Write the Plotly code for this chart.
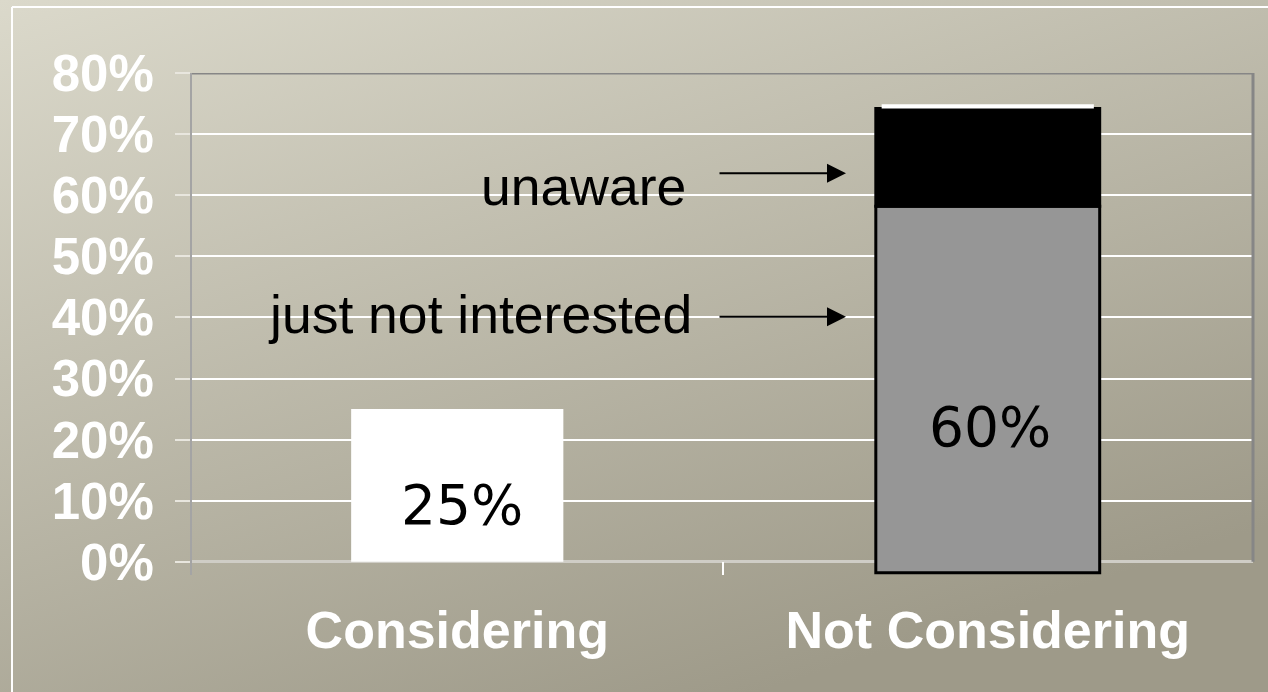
import base64

import plotly.graph_objects as go

# values (percent)
categories = ["Considering", "Not Considering"]
considering = [25]
not_interested = [60]
unaware = [16]
bar_labels = ["25%", "60%"]
y_ticks = [0, 10, 20, 30, 40, 50, 60, 70, 80]
y_tick_text = [f"{v}%" for v in y_ticks]

W, H = 1268, 692
L, R, T, B = 192, 15, 73, 117
pw, ph = W - L - R, H - T - B

# slide-like diagonal gradient background
svg = (
    f'<svg xmlns="http://www.w3.org/2000/svg" width="{W}" height="{H}">'
    '<defs><linearGradient id="g" x1="0" y1="0" x2="0.6" y2="1">'
    '<stop offset="0" stop-color="#dbd9cb"/>'
    '<stop offset="1" stop-color="#9e9a89"/>'
    "</linearGradient></defs>"
    f'<rect width="{W}" height="{H}" fill="url(#g)"/></svg>'
)
bg_src = "data:image/svg+xml;base64," + base64.b64encode(svg.encode()).decode()

fig = go.Figure()
fig.add_trace(
    go.Bar(
        x=[categories[0]],
        y=considering,
        width=0.4,
        marker=dict(color="white", line=dict(width=0)),
        showlegend=False,
    )
)
fig.add_trace(
    go.Bar(
        x=[categories[1]],
        y=not_interested,
        base=[-1.8],
        width=0.422,
        marker=dict(color="#969696", line=dict(color="black", width=3)),
        showlegend=False,
    )
)
fig.add_trace(
    go.Bar(
        x=[categories[1]],
        y=unaware,
        base=[-1.8 + not_interested[0]],
        width=0.422,
        marker=dict(color="black", line=dict(color="black", width=3)),
        showlegend=False,
    )
)
fig.add_trace(
    go.Bar(
        x=[categories[1]],
        y=[0.7],
        base=[-1.8 + not_interested[0] + unaware[0]],
        width=0.4,
        marker=dict(color="white", line=dict(width=0)),
        showlegend=False,
    )
)

fig.update_layout(
    width=W,
    height=H,
    margin=dict(l=L, r=R, t=T, b=B),
    barmode="overlay",
    paper_bgcolor="#c4c1b1",
    plot_bgcolor="rgba(0,0,0,0)",
    images=[
        dict(
            source=bg_src,
            xref="paper",
            yref="paper",
            x=-L / pw,
            y=1 + T / ph,
            sizex=W / pw,
            sizey=H / ph,
            sizing="stretch",
            xanchor="left",
            yanchor="top",
            layer="below",
        )
    ],
)

fig.update_yaxes(
    range=[-2.15, 80],
    tickvals=y_ticks,
    ticktext=y_tick_text,
    tickfont=dict(family="Liberation Sans, Arial", size=51, color="white", weight="bold"),
    ticks="outside",
    ticklen=15,
    tickcolor="#e8e6de",
    tickwidth=2,
    ticklabelstandoff=11,
    showgrid=True,
    gridcolor="white",
    gridwidth=1.5,
    zeroline=True,
    zerolinecolor="#cfcdc6",
    zerolinewidth=3,
    showline=True,
    linecolor="#a4a4a4",
    linewidth=2,
)
fig.update_xaxes(
    tickfont=dict(family="Liberation Sans, Arial", size=52, color="white", weight="bold"),
    ticks="inside",
    tickson="boundaries",
    ticklen=13,
    tickcolor="white",
    tickwidth=2,
    ticklabelstandoff=20,
    showline=False,
    showgrid=False,
)

# plot-area frame (top and right)
fig.add_shape(
    type="line", xref="paper", yref="y", x0=0, x1=1, y0=80, y1=80,
    line=dict(color="#868686", width=3),
)
fig.add_shape(
    type="line", xref="paper", yref="y", x0=1, x1=1, y0=0, y1=80,
    line=dict(color="#868686", width=3),
)
# white slide frame
fig.add_shape(
    type="line", xref="paper", yref="paper",
    x0=(12 - L) / pw, x1=(W - L) / pw, y0=1 + (T - 7) / ph, y1=1 + (T - 7) / ph,
    line=dict(color="white", width=2), layer="below",
)
fig.add_shape(
    type="line", xref="paper", yref="paper",
    x0=(12 - L) / pw, x1=(12 - L) / pw, y0=1 + (T - 7) / ph, y1=-B / ph,
    line=dict(color="white", width=2), layer="below",
)

# value labels inside bars
fig.add_annotation(
    x=categories[0], y=9.3, text=bar_labels[0], showarrow=False, xshift=5,
    font=dict(family="DejaVu Sans", size=55, color="black"),
)
fig.add_annotation(
    x=categories[1], y=22.1, text=bar_labels[1], showarrow=False, xshift=2,
    font=dict(family="DejaVu Sans", size=55, color="black"),
)

# callouts
text_font = dict(family="Liberation Sans, Arial", size=53.5, color="black")
fig.add_annotation(
    xref="paper", x=(688 - L) / pw, y=61.4, text="unaware", showarrow=False,
    xanchor="right", font=text_font,
)
fig.add_annotation(
    xref="paper", x=(694 - L) / pw, y=40.4, text="just not interested",
    showarrow=False, xanchor="right", font=text_font,
)
for ya in [63.6, 40.1]:
    fig.add_annotation(
        xref="paper", x=(846 - L) / pw, y=ya, text="", showarrow=True,
        ax=-128, ay=0, arrowhead=2, arrowsize=1.9, arrowwidth=2,
        arrowcolor="black",
    )

fig.write_html(
    "out.html",
    config={"displayModeBar": False},
    post_script="document.body.style.margin='0';",
)
